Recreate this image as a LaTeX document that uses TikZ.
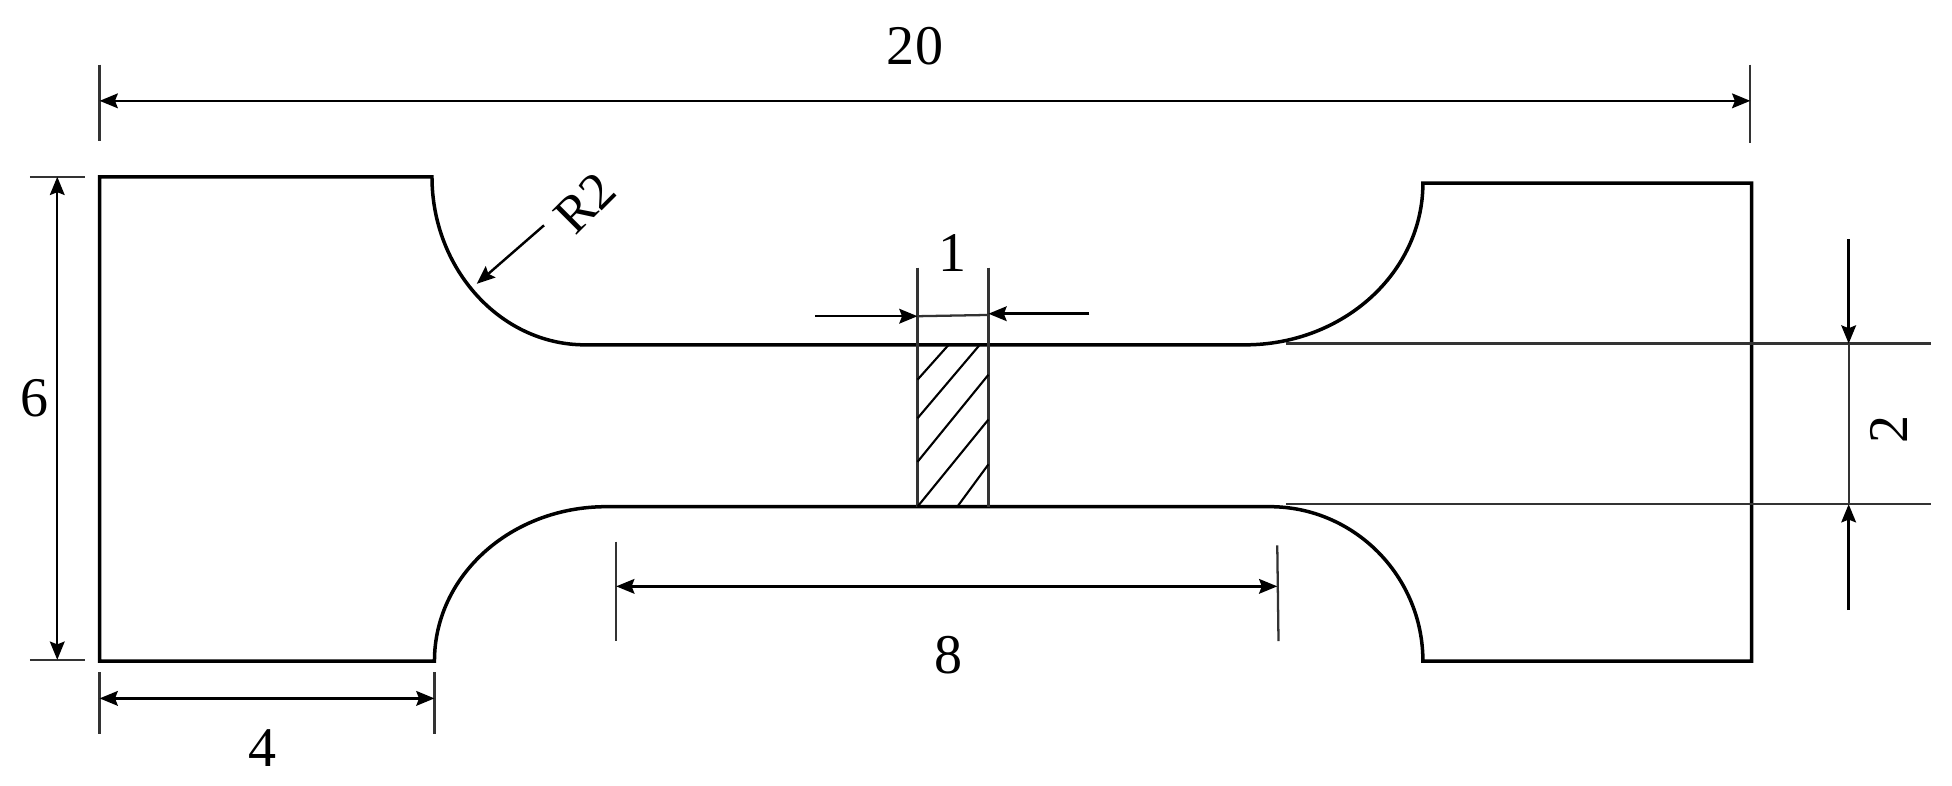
\documentclass[tikz,border=0pt]{standalone}
\usepackage{fontspec}
\setmainfont{Liberation Serif}
\usetikzlibrary{arrows.meta}
\tikzset{
    >={Stealth[length=5.2pt,width=4.2pt,inset=.8pt]},
    outline/.style={draw,line width=1pt,line join=miter},
    thinline/.style={draw,line width=.65pt,black!80},
    dimline/.style={draw,line width=.7pt,->},
    dimlabel/.style={inner sep=0,font=\fontsize{16}{18}\selectfont}
}
\begin{document}
\begin{tikzpicture}[x=.0125cm,y=-.0125cm]
\useasboundingbox (0,0) rectangle (1568,630.6);
%outline
\path[outline] (80,142) -- (347,142) .. controls (347,216) and (402,277) .. (470,277)
    -- (1000,277) .. controls (1079,277) and (1143,219) .. (1143,147)
    -- (1407,147) -- (1407,531) -- (1143,531)
    .. controls (1143,463) and (1088,407) .. (1020,407)
    -- (487,407) .. controls (411,407) and (349,462) .. (349,531) -- (80,531) -- cycle;
%section
\foreach \x in {737,794}{
    \path[thinline] (\x,215) -- (\x,407);
}
\foreach \xa/\ya/\xb/\yb in {737/305/762/277, 737/336/787/277, 737/371/794/301, 737/407/794/337, 769/407/794/373}{
    \path[draw,line width=.6pt] (\xa,\ya) -- (\xb,\yb);
}
%extension lines
\foreach \xa/\ya/\xb/\yb in {
    80/52/80/113, 1406/52/1406/115,
    24/142/68/142, 24/530/68/530,
    80/540/80/590, 349/540/349/590,
    495/435/495/515, 1026/438/1027/515,
    1033/276/1551/276, 1033/405/1551/405
}{
    \path[thinline] (\xa,\ya) -- (\xb,\yb);
}
%dimensions
\path[dimline,<->] (80,81) -- (1406,81);
\path[dimline,<->] (46,142) -- (46,530);
\path[dimline,<->] (80,561) -- (349,561);
\path[dimline,<->] (495,471) -- (1026,471);
\path[dimline] (655,254) -- (737,254);
\path[dimline] (875,252) -- (794,252);
\path[thinline] (737,254) -- (794,253);
\path[dimline] (1485,192) -- (1485,276);
\path[dimline] (1485,490) -- (1485,405);
\path[thinline] (1485,276) -- (1485,405);
\path[dimline] (437,181) -- (383,228);
%labels
\node[dimlabel] (twenty) at (735,37){20};
\node[dimlabel] (six) at (28,320){6};
\node[dimlabel] (four) at (211,601){4};
\node[dimlabel] (eight) at (762,526){8};
\node[dimlabel] (one) at (765,203){1};
\node[dimlabel,rotate=90] (two) at (1517,345){2};
\node[dimlabel,rotate=45,font=\fontsize{15}{17}\selectfont] (radius) at (470,163){R2};
\end{tikzpicture}
\end{document}
